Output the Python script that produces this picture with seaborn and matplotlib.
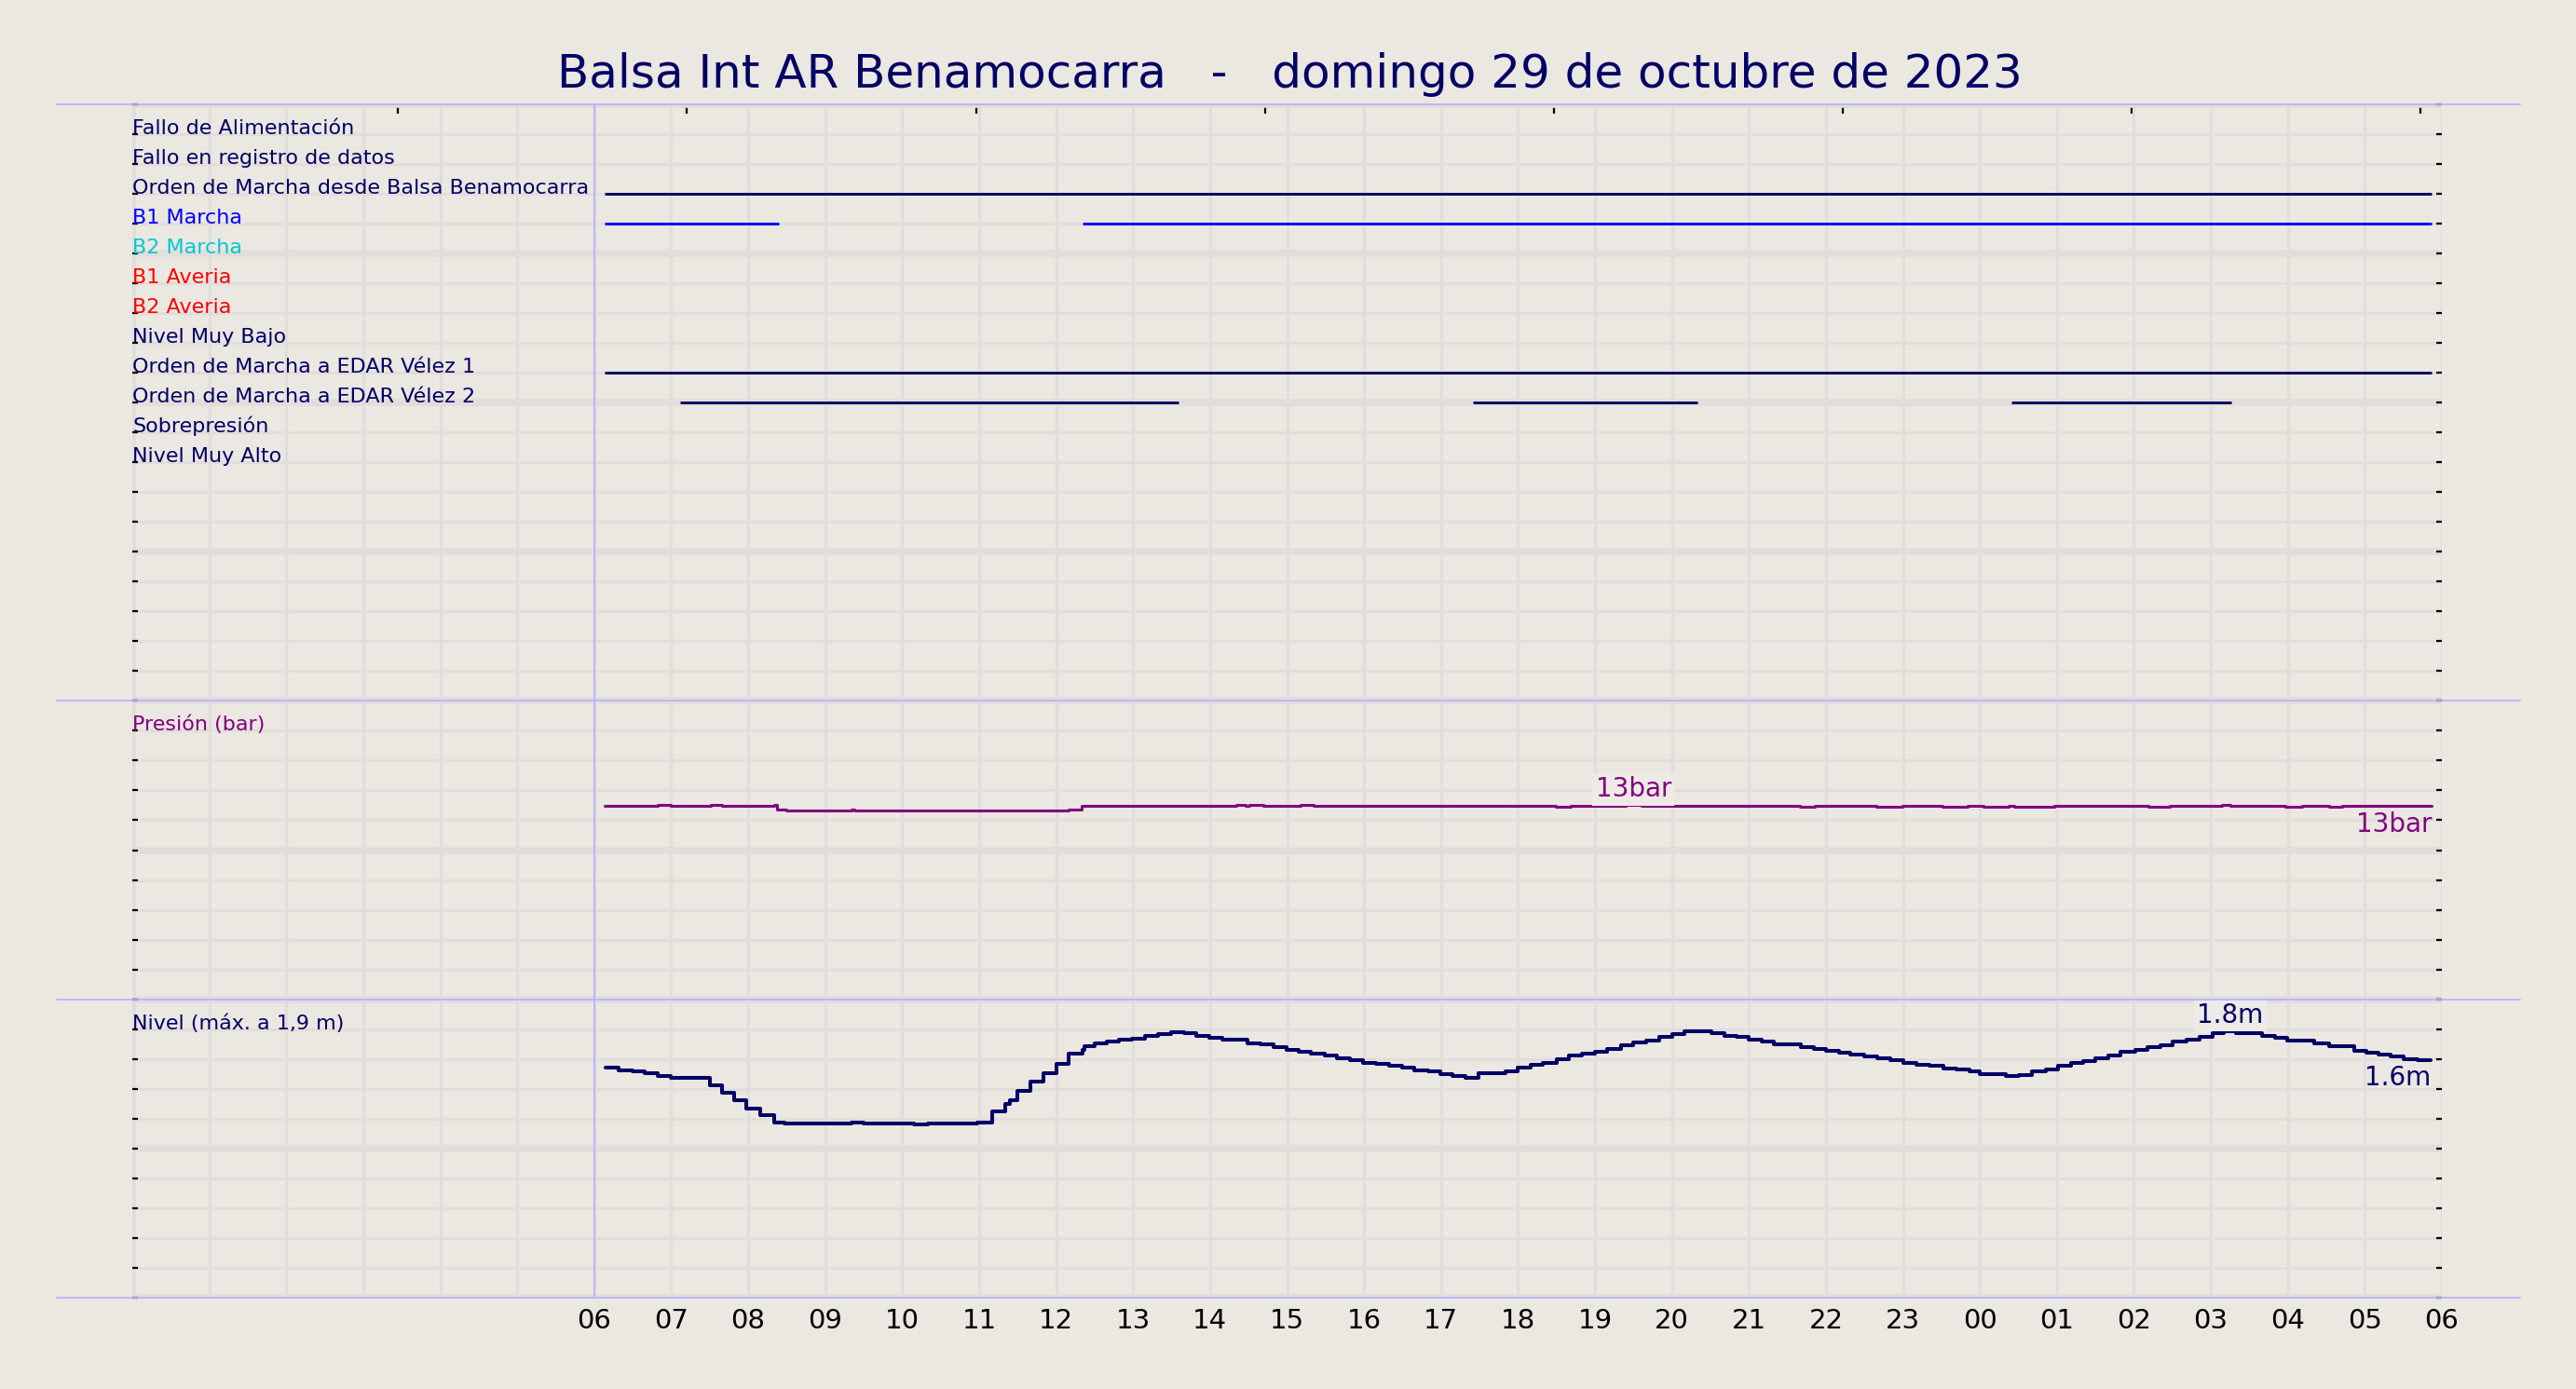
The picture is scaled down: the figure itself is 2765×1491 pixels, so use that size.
import numpy as np
import pandas as pd
import matplotlib
matplotlib.use('Agg')
from matplotlib import pyplot as plt
from matplotlib.lines import Line2D
import seaborn as sns

BG = '#ebe7e1'
GRID = '#e2dddb'
NAVY = '#000066'
EDGE = '#b4b4ff'
PURPLE = '#800080'

TITLE = 'Balsa Int AR Benamocarra   -   domingo 29 de octubre de 2023'

### signal rows (top panel), row value counted from the bottom of a 0-20 panel
row_labels = ['Fallo de Alimentación', 'Fallo en registro de datos',
              'Orden de Marcha desde Balsa Benamocarra', 'B1 Marcha', 'B2 Marcha',
              'B1 Averia', 'B2 Averia', 'Nivel Muy Bajo',
              'Orden de Marcha a EDAR Vélez 1', 'Orden de Marcha a EDAR Vélez 2',
              'Sobrepresión', 'Nivel Muy Alto']
row_colors = [NAVY, NAVY, NAVY, 'blue', '#00c8d0', 'red', 'red', NAVY,
              NAVY, NAVY, NAVY, NAVY]
row_values = [19, 18, 17, 16, 15, 14, 13, 12, 11, 10, 9, 8]

# on periods (hours from 00:00 of the day, >24 = next day)
seg_signal = ['Orden de Marcha desde Balsa Benamocarra', 'B1 Marcha', 'B1 Marcha',
              'Orden de Marcha a EDAR Vélez 1', 'Orden de Marcha a EDAR Vélez 2',
              'Orden de Marcha a EDAR Vélez 2', 'Orden de Marcha a EDAR Vélez 2']
seg_start = [6.14, 6.14, 12.34, 6.14, 7.11, 17.41, 24.41]
seg_end = [29.87, 8.40, 29.87, 29.87, 13.59, 20.33, 27.26]

### pressure (bar)
pres_t = [6.14, 6.83, 7.00, 7.51, 7.66, 8.34, 8.38, 8.49, 9.34, 9.38, 12.16, 12.33,
          14.34, 14.46, 14.51, 14.69, 15.17, 15.35, 18.49, 18.69, 19.40, 19.60,
          21.66, 21.85, 22.66, 22.99, 23.51, 23.84, 24.04, 24.37, 24.45, 24.97,
          26.19, 26.47, 27.15, 27.25, 27.97, 28.18, 28.54, 28.70, 29.87]
pres_bar = [12.96, 13.00, 12.96, 13.00, 12.96, 13.00, 12.74, 12.67, 12.72, 12.67, 12.74, 12.96,
            13.00, 12.94, 13.00, 12.96, 13.00, 12.96, 12.92, 12.96, 13.02, 12.96,
            12.92, 12.96, 12.92, 12.96, 12.92, 12.96, 12.92, 12.96, 12.92, 12.96,
            12.92, 12.96, 13.00, 12.96, 12.92, 12.96, 12.92, 12.96, 12.96]

### level (m)
level_t = [6.15, 6.32, 6.50, 6.66, 6.83, 6.99, 7.50, 7.66, 7.82, 7.98, 8.16, 8.34, 8.47,
           9.34, 9.50, 9.98, 10.15, 10.34, 10.50, 10.98, 11.17, 11.34, 11.40, 11.50,
           11.66, 11.83, 12.00, 12.16, 12.34, 12.37, 12.50, 12.66, 12.82, 12.99, 13.16,
           13.32, 13.49, 13.66, 13.82, 13.99, 14.16, 14.48, 14.65, 14.82, 14.99, 15.15,
           15.31, 15.49, 15.65, 15.82, 15.99, 16.15, 16.32, 16.49, 16.65, 16.83, 16.99,
           17.15, 17.32, 17.49, 17.84, 18.00, 18.16, 18.32, 18.50, 18.66, 18.83, 19.00,
           19.16, 19.34, 19.50, 19.66, 19.84, 20.00, 20.16, 20.51, 20.68, 20.84, 21.00,
           21.16, 21.32, 21.68, 21.84, 22.00, 22.17, 22.32, 22.50, 22.67, 22.84, 23.00,
           23.17, 23.34, 23.53, 23.69, 23.86, 24.00, 24.34, 24.50, 24.67, 24.86, 25.02,
           25.18, 25.34, 25.50, 25.67, 25.83, 26.02, 26.18, 26.34, 26.50, 26.69, 26.85,
           27.02, 27.17, 27.33, 27.67, 27.83, 27.99, 28.34, 28.53, 28.86, 29.02, 29.18,
           29.34, 29.50, 29.68, 29.86]
level_m = [1.542, 1.527, 1.521, 1.504, 1.485, 1.473, 1.423, 1.373, 1.323, 1.269, 1.223, 1.177, 1.167,
           1.173, 1.167, 1.171, 1.165, 1.171, 1.167, 1.177, 1.248, 1.300, 1.323, 1.385,
           1.448, 1.504, 1.571, 1.635, 1.665, 1.690, 1.704, 1.717, 1.731, 1.740, 1.758,
           1.769, 1.779, 1.773, 1.758, 1.742, 1.731, 1.706, 1.698, 1.681, 1.660, 1.648,
           1.635, 1.623, 1.604, 1.592, 1.577, 1.567, 1.554, 1.542, 1.523, 1.519, 1.500,
           1.488, 1.473, 1.504, 1.521, 1.542, 1.560, 1.577, 1.598, 1.623, 1.635, 1.648,
           1.667, 1.692, 1.713, 1.723, 1.748, 1.767, 1.785, 1.773, 1.754, 1.748, 1.729,
           1.717, 1.698, 1.681, 1.667, 1.654, 1.642, 1.633, 1.621, 1.608, 1.596, 1.577,
           1.565, 1.556, 1.537, 1.529, 1.519, 1.500, 1.485, 1.494, 1.519, 1.529, 1.554,
           1.577, 1.590, 1.606, 1.627, 1.652, 1.665, 1.684, 1.696, 1.719, 1.733, 1.752,
           1.773, 1.790, 1.773, 1.758, 1.746, 1.727, 1.706, 1.690, 1.658, 1.646, 1.633,
           1.621, 1.602, 1.596, 1.596]

hour_ticks = list(range(0, 31))
hour_labels = ['' if h < 6 else '%02d' % (h % 24) for h in hour_ticks]
top_ticks = [3.45, 7.20, 10.96, 14.71, 18.47, 22.22, 25.97, 29.72]

sig_df = pd.DataFrame({'signal': seg_signal, 'start': seg_start, 'end': seg_end})
row_map = dict(zip(row_labels, row_values))
col_map = dict(zip(row_labels, row_colors))
sig_df['row'] = sig_df.signal.map(row_map)
sig_df['color'] = sig_df.signal.map(col_map)

pres_df = pd.DataFrame({'t': pres_t, 'bar': pres_bar})
level_df = pd.DataFrame({'t': level_t, 'm': level_m})

sns.set_theme(style='whitegrid', rc={'axes.facecolor': BG, 'figure.facecolor': BG,
                                     'grid.color': GRID, 'axes.edgecolor': BG})
plt.rcParams['font.family'] = ['DejaVu Sans']

fig = plt.figure(figsize=(27.65, 14.91), dpi=100)
L, W = 142 / 2765, (2621 - 142) / 2765
ax0 = fig.add_axes([L, 1 - 752 / 1491, W, 640 / 1491])
ax1 = fig.add_axes([L, 1 - 1073 / 1491, W, 321 / 1491])
ax2 = fig.add_axes([L, 1 - 1393 / 1491, W, 320 / 1491])


def style_axes(ax, ymax, minor, major):
    ax.set_xlim(0, 30)
    ax.set_ylim(0, ymax)
    ax.set_xticks(hour_ticks)
    ax.set_xticklabels([])
    ax.set_yticks(np.arange(0, ymax + minor / 2, major))
    ax.set_yticks(np.arange(0, ymax + minor / 2, minor), minor=True)
    ax.set_yticklabels([])
    ax.grid(which='major', axis='x', color=GRID, lw=2.2)
    ax.grid(which='major', axis='y', color=GRID, lw=5.5)
    ax.grid(which='minor', axis='y', color=GRID, lw=2.2)
    ax.axvline(0, color=GRID, lw=5, zorder=0.5)
    ax.axvline(6, color=EDGE, lw=1.3, zorder=1)
    ax.set_axisbelow(True)
    ax.tick_params(axis='x', length=0, labelsize=21, pad=8, colors='black')
    ax.tick_params(axis='y', which='both', left=True, right=True, direction='in',
                   length=4, width=1.6, color='black')
    for s in ax.spines.values():
        s.set_visible(False)
    ax.set_xlabel('')
    ax.set_ylabel('')


### top panel: digital signals
style_axes(ax0, 20, 1, 5)
ax0.hlines(sig_df.row, sig_df.start, sig_df.end, colors=sig_df.color, lw=2.1, zorder=3)
for lab, v, c in zip(row_labels, row_values, row_colors):
    ax0.text(0, v, lab, color=c, fontsize=16, ha='left', va='baseline')
secax = ax0.secondary_xaxis('top')
secax.set_xticks(top_ticks)
secax.tick_params(direction='in', length=7, width=1.6, labeltop=False, color='black')
secax.spines['top'].set_visible(False)

### middle panel: pressure
sns.lineplot(data=pres_df, x='t', y='bar', ax=ax1, estimator=None, color=PURPLE,
             lw=2.2, drawstyle='steps-post', zorder=3)
style_axes(ax1, 20, 2, 10)
ax1.text(0, 18, 'Presión (bar)', color=PURPLE, fontsize=16, ha='left', va='baseline')
imax = int(np.argmax(pres_bar))
ax1.annotate('%dbar' % round(pres_bar[imax]),
             ((pres_t[imax] + pres_t[imax + 1]) / 2, pres_bar[imax]),
             xytext=(0, 2), textcoords='offset points', ha='center', va='bottom',
             color=PURPLE, fontsize=20, zorder=5,
             bbox=dict(boxstyle='square,pad=0.12', fc='#eeebe6', ec='none'))
ax1.annotate('%dbar' % round(pres_bar[-1]), (pres_t[-1], pres_bar[-1]),
             xytext=(0, -4), textcoords='offset points', ha='right', va='top',
             color=PURPLE, fontsize=20)

### bottom panel: level
sns.lineplot(data=level_df, x='t', y='m', ax=ax2, estimator=None, color=NAVY,
             lw=2.9, drawstyle='steps-post', zorder=3)
style_axes(ax2, 2.0, 0.2, 1.0)
ax2.set_xticklabels(hour_labels)
ax2.text(0, 1.8, 'Nivel (máx. a 1,9 m)', color=NAVY, fontsize=16, ha='left', va='baseline')
imax = int(np.argmax(level_m))
ax2.annotate('%.1fm' % level_m[imax],
             ((level_t[imax] + level_t[imax + 1]) / 2, level_m[imax]),
             xytext=(0, 2), textcoords='offset points', ha='center', va='bottom',
             color=NAVY, fontsize=20, zorder=5,
             bbox=dict(boxstyle='square,pad=0.12', fc='#eeebe6', ec='none'))
ax2.annotate('%.1fm' % level_m[-1], (level_t[-1], level_m[-1]),
             xytext=(0, -4), textcoords='offset points', ha='right', va='top',
             color=NAVY, fontsize=20)

### panel borders across the figure
for yf in [1 - 112 / 1491, 1 - 752 / 1491, 1 - 1073 / 1491, 1 - 1393 / 1491]:
    fig.add_artist(Line2D([61 / 2765, 2705 / 2765], [yf, yf], transform=fig.transFigure,
                          color=EDGE, lw=1.3))

fig.text(0.5006, 1 - 80 / 1491, TITLE, ha='center', va='center', fontsize=36, color=NAVY)

plt.savefig('out.png', dpi=100, facecolor=BG)
